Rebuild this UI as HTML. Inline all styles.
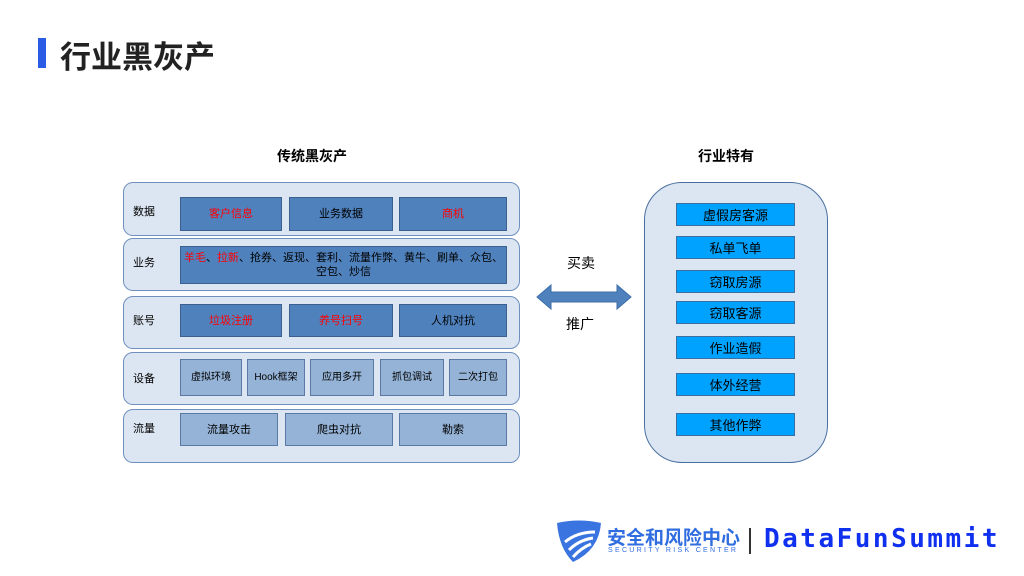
<!DOCTYPE html>
<html><head><meta charset="utf-8"><style>
*{margin:0;padding:0;box-sizing:border-box}
body{width:1024px;height:576px;background:#fff;position:relative;overflow:hidden;font-family:"Liberation Sans","Noto Sans CJK SC",sans-serif}
.a{position:absolute}
.row{position:absolute;left:123px;width:397px;background:#dce6f2;border:1px solid #6f8fbf;border-radius:10px}
.lab{position:absolute;font-size:11px;color:#000}
.b{position:absolute;background:#4f81bd;border:1px solid #3b5f8f;display:flex;align-items:center;justify-content:center;font-size:11px;color:#000;text-align:center;line-height:14px}
.l{background:#95b3d7;border-color:#5a7aa5}
.r{color:#f00}
.c{position:absolute;left:676px;width:119px;height:23px;background:#00a2ff;border:1px solid #3b6fa0;display:flex;align-items:center;justify-content:center;font-size:13px}
</style></head><body>
<div class="a" style="left:38px;top:38px;width:8px;height:30px;background:#2b5ce6"></div>
<div class="a" style="left:60px;top:32px;font-size:31px;font-weight:bold;color:#222">行业黑灰产</div>
<div class="a" style="left:277px;top:146px;font-size:14px;font-weight:bold">传统黑灰产</div>
<div class="a" style="left:698px;top:146px;font-size:14px;font-weight:bold">行业特有</div>

<div class="row" style="top:182px;height:54px"></div>
<div class="row" style="top:238px;height:53px"></div>
<div class="row" style="top:296px;height:53px"></div>
<div class="row" style="top:352px;height:53px"></div>
<div class="row" style="top:409px;height:54px"></div>
<div class="lab" style="left:133px;top:203px">数据</div>
<div class="lab" style="left:133px;top:254px">业务</div>
<div class="lab" style="left:133px;top:312px">账号</div>
<div class="lab" style="left:133px;top:370px">设备</div>
<div class="lab" style="left:133px;top:420px">流量</div>

<div class="b r" style="left:180px;top:197px;width:102px;height:34px">客户信息</div>
<div class="b" style="left:289px;top:197px;width:104px;height:34px">业务数据</div>
<div class="b r" style="left:399px;top:197px;width:108px;height:34px">商机</div>
<div class="b" style="left:180px;top:246px;width:327px;height:38px;align-items:flex-start;padding-top:4px;white-space:nowrap"><span><span class="r">羊毛</span>、<span class="r">拉新</span>、抢券、返现、套利、流量作弊、黄牛、刷单、众包、<br>空包、炒信</span></div>
<div class="b r" style="left:180px;top:304px;width:102px;height:33px">垃圾注册</div>
<div class="b r" style="left:289px;top:304px;width:104px;height:33px">养号扫号</div>
<div class="b" style="left:399px;top:304px;width:108px;height:33px">人机对抗</div>
<div class="b l" style="left:180px;top:359px;width:62px;height:37px;font-size:10px">虚拟环境</div>
<div class="b l" style="left:247px;top:359px;width:58px;height:37px;font-size:10px">Hook框架</div>
<div class="b l" style="left:310px;top:359px;width:64px;height:37px;font-size:10px">应用多开</div>
<div class="b l" style="left:380px;top:359px;width:64px;height:37px;font-size:10px">抓包调试</div>
<div class="b l" style="left:449px;top:359px;width:58px;height:37px;font-size:10px">二次打包</div>
<div class="b l" style="left:180px;top:413px;width:98px;height:33px">流量攻击</div>
<div class="b l" style="left:285px;top:413px;width:108px;height:33px">爬虫对抗</div>
<div class="b l" style="left:399px;top:413px;width:108px;height:33px">勒索</div>

<div class="a" style="left:567px;top:253px;font-size:14px">买卖</div>
<div class="a" style="left:566px;top:314px;font-size:14px">推广</div>
<svg class="a" style="left:535px;top:282px" width="98" height="30"><polygon points="2,15 16,3 16,10 82,10 82,3 96,15 82,27 82,20 16,20 16,27" fill="#4f81bd" stroke="#3d6ea8"/></svg>

<div class="a" style="left:644px;top:182px;width:184px;height:281px;background:#dce6f2;border:1px solid #4a6f9f;border-radius:38px"></div>
<div class="c" style="top:203px">虚假房客源</div>
<div class="c" style="top:236px">私单飞单</div>
<div class="c" style="top:270px">窃取房源</div>
<div class="c" style="top:301px">窃取客源</div>
<div class="c" style="top:336px">作业造假</div>
<div class="c" style="top:373px">体外经营</div>
<div class="c" style="top:413px">其他作弊</div>

<svg class="a" style="left:555px;top:520px" width="48" height="44"><path d="M2,3 Q24,-2 46,3 Q44,30 18,42 Q4,28 2,3Z" fill="#3a74e0"/><path d="M10,22 Q22,12 40,12 M14,30 Q24,20 38,18 M18,37 Q26,28 36,24" stroke="#fff" stroke-width="3" fill="none"/></svg>
<div class="a" style="left:607px;top:523px;font-size:19px;font-weight:bold;color:#2f6de0">安全和风险中心</div>
<div class="a" style="left:608px;top:547px;font-size:7px;color:#2f6de0;letter-spacing:2.3px">SECURITY RISK CENTER</div>
<div class="a" style="left:749px;top:528px;width:2px;height:26px;background:#333"></div>
<div class="a" style="left:764px;top:524px;font-size:26px;font-weight:bold;color:#1030f0;letter-spacing:2.5px;font-family:'DejaVu Sans Mono',monospace">DataFunSummit</div>
</body></html>
